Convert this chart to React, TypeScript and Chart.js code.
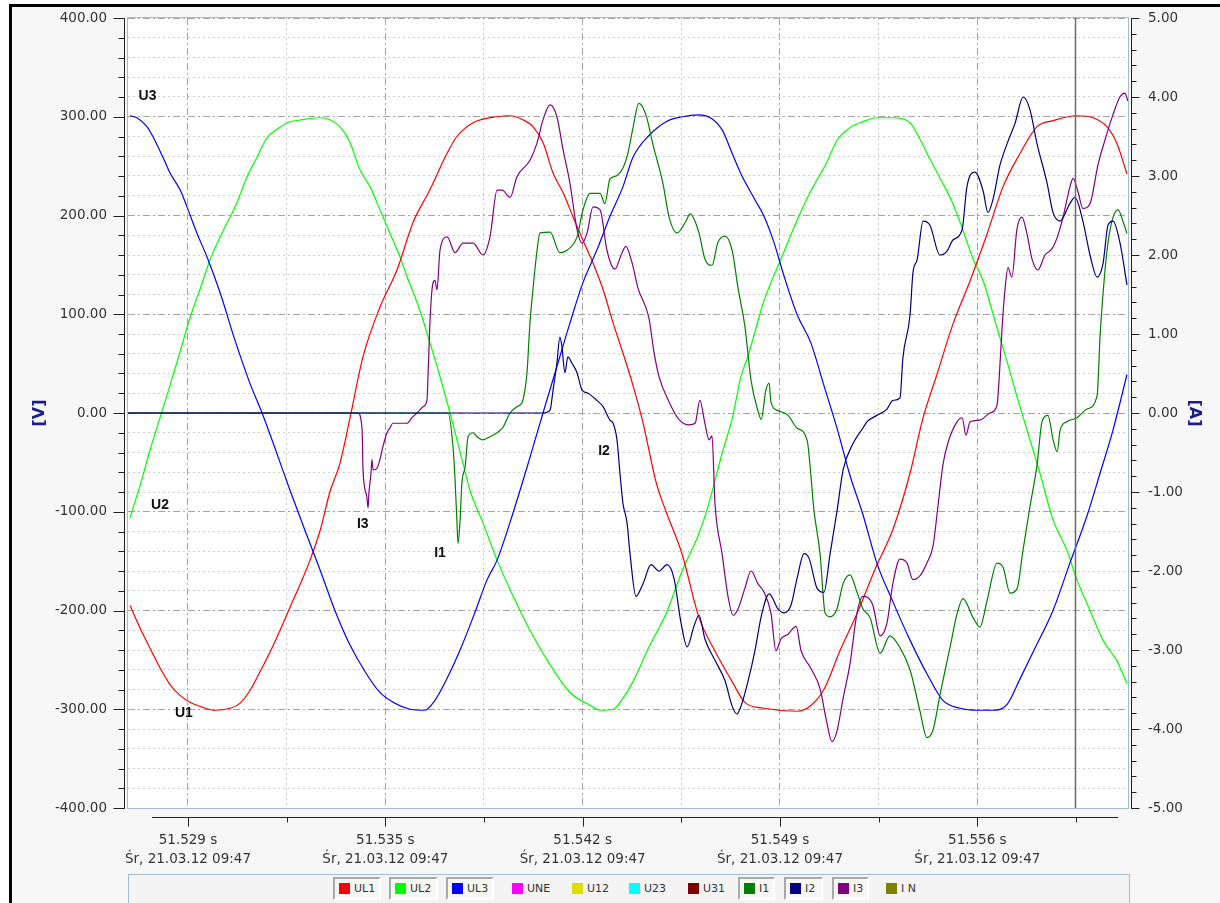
import React, { useEffect, useRef } from "react";
import { Chart, registerables } from "chart.js";

Chart.register(...registerables);

// ---- time axis (ms from left edge of the record window) ----
const X_MAX = 33.784;
const xMajorTicks = [2.027, 8.694, 15.36, 22.027, 28.694];
const xMinorTicks = [5.36, 12.027, 18.694, 25.36, 32.027];
const xTimeLabels = ["51.529 s", "51.535 s", "51.542 s", "51.549 s", "51.556 s"];
const xDateLabels = [
  "Śr, 21.03.12 09:47",
  "Śr, 21.03.12 09:47",
  "Śr, 21.03.12 09:47",
  "Śr, 21.03.12 09:47",
  "Śr, 21.03.12 09:47",
];
const cursorTime = 31.99;

// ---- voltages [ms, V] ----
const ul1: [number, number][] = [
  [0.07, -195], [0.41, -218], [0.74, -238], [1.08, -258], [1.42, -275], [1.76, -286], [2.09, -293],
  [2.43, -297], [2.94, -301], [3.45, -299], [3.78, -294], [4.12, -281], [4.46, -262], [4.8, -242],
  [5.14, -220], [5.47, -197], [5.81, -174], [6.15, -149], [6.49, -119], [6.82, -80], [7.16, -51],
  [7.5, -5], [7.94, 57], [8.51, 107], [9.09, 145], [9.63, 193], [10.2, 226], [10.78, 263],
  [11.11, 280], [11.66, 294], [12.47, 300], [12.91, 301], [13.34, 297], [13.68, 290], [14.02, 274],
  [14.36, 243], [14.7, 223], [15.03, 199], [15.37, 175], [15.71, 152], [16.05, 125], [16.39, 91],
  [16.72, 61], [17.06, 28], [17.4, -10], [17.84, -70], [18.18, -100], [18.72, -143], [19.29, -207],
  [19.83, -241], [20.41, -272], [20.84, -293], [21.49, -299], [22.6, -302], [23.04, -297],
  [23.51, -280], [24.05, -241], [24.63, -203], [25.27, -156], [25.84, -118], [26.42, -61],
  [26.86, -5], [27.33, 39], [27.87, 90], [28.45, 134], [29.02, 181], [29.56, 229], [30.14, 263],
  [30.71, 290], [31.25, 296], [32.06, 301], [32.6, 299], [33.07, 290], [33.41, 273], [33.75, 242],
];

const ul2: [number, number][] = [
  [0.07, -106], [0.41, -73], [0.74, -38], [1.08, -5], [1.42, 28], [1.76, 62], [2.09, 96],
  [2.43, 125], [2.77, 155], [3.11, 178], [3.68, 213], [4.02, 239], [4.36, 259], [4.7, 279],
  [5.03, 287], [5.37, 294], [5.91, 297], [6.49, 299], [6.82, 297], [7.16, 290], [7.5, 274],
  [7.84, 246], [8.18, 229], [8.51, 206], [8.85, 182], [9.19, 158], [9.43, 138], [9.86, 104],
  [10.2, 71], [10.54, 37], [10.88, 0], [11.32, -51], [11.55, -78], [11.99, -111], [12.47, -149],
  [12.91, -179], [13.58, -220], [14.26, -255], [14.93, -283], [15.61, -296], [15.95, -301],
  [16.39, -300], [16.72, -289], [17.06, -272], [17.6, -237], [18.18, -203], [18.72, -160],
  [19.29, -122], [19.63, -91], [20.07, -41], [20.41, -6], [20.71, 37], [20.95, 58], [21.49, 114],
  [22.06, 156], [22.6, 195], [23.07, 225], [23.61, 254], [23.95, 276], [24.39, 289], [24.83, 295],
  [25.3, 299], [25.84, 299], [26.42, 294], [26.76, 277], [26.99, 263], [27.43, 238], [27.87, 212],
  [28.21, 185], [28.55, 156], [28.89, 134], [29.36, 86], [29.7, 52], [30.03, 17], [30.37, -17],
  [30.81, -61], [31.25, -108], [31.72, -139], [32.06, -169], [32.5, -200], [32.94, -230],
  [33.41, -251], [33.75, -274],
];

const ul3: [number, number][] = [
  [0.07, 301], [0.3, 299], [0.64, 290], [0.84, 280], [1.18, 259], [1.42, 243], [1.76, 226],
  [1.99, 209], [2.33, 182], [2.67, 158], [3.11, 122], [3.61, 74], [4.12, 30], [4.53, 0],
  [4.97, -36], [5.47, -78], [5.98, -119], [6.49, -159], [6.99, -200], [7.5, -235], [8.01, -262],
  [8.51, -283], [9.02, -294], [9.53, -300], [10.03, -301], [10.37, -291], [10.71, -273],
  [11.22, -240], [11.72, -202], [12.13, -169], [12.47, -149], [13.01, -101], [13.58, -45],
  [14.02, 0], [14.49, 47], [14.93, 91], [15.37, 132], [15.84, 165], [16.28, 199], [16.72, 229],
  [17.06, 259], [17.6, 281], [18.18, 295], [18.72, 300], [19.29, 302], [19.73, 298], [20.07, 287],
  [20.41, 263], [20.71, 242], [21.18, 216], [21.49, 199], [21.82, 173], [22.16, 139], [22.6, 100],
  [23.07, 71], [23.51, 28], [23.95, -15], [24.39, -63], [24.83, -103], [25.3, -152], [25.84, -191],
  [26.42, -230], [26.99, -264], [27.53, -291], [28.11, -299], [28.68, -301], [29.22, -301],
  [29.7, -295], [30.14, -269], [30.71, -234], [31.25, -200], [31.82, -152], [32.4, -104],
  [32.84, -61], [33.28, -17], [33.75, 39],
];

// ---- currents [ms, A] ----
const i1: [number, number][] = [
  [0, 0], [10.81, 0], [10.98, -0.43], [11.05, -0.85], [11.11, -1.35], [11.15, -1.65], [11.22, -1.35],
  [11.28, -0.89], [11.39, -0.68], [11.49, -0.3], [11.66, -0.25], [11.79, -0.3], [11.99, -0.34],
  [12.23, -0.3], [12.47, -0.25], [12.67, -0.18], [12.91, 0], [13.14, 0.08], [13.31, 0.13],
  [13.41, 0.29], [13.48, 0.51], [13.58, 1.14], [13.68, 1.56], [13.82, 2.06], [13.92, 2.28],
  [14.26, 2.29], [14.59, 2.03], [14.83, 2.06], [15.17, 2.23], [15.37, 2.57], [15.61, 2.78],
  [15.95, 2.78], [16.11, 2.65], [16.28, 2.96], [16.49, 3.0], [16.72, 3.1], [16.89, 3.29],
  [17.06, 3.61], [17.26, 3.92], [17.5, 3.77], [17.74, 3.39], [18.07, 2.91], [18.28, 2.48],
  [18.55, 2.28], [18.85, 2.43], [18.99, 2.52], [19.29, 2.28], [19.49, 1.95], [19.73, 1.87],
  [19.93, 2.16], [20.17, 2.24], [20.41, 2.06], [20.61, 1.58], [20.84, 1.1], [21.05, 0.41],
  [21.28, 0.03], [21.39, -0.08], [21.55, 0.29], [21.66, 0.38], [21.72, 0.14], [21.96, 0.03],
  [22.3, -0.03], [22.6, -0.19], [22.94, -0.34], [23.18, -1.25], [23.38, -1.78], [23.55, -2.53],
  [23.72, -2.58], [23.95, -2.48], [24.16, -2.16], [24.39, -2.05], [24.63, -2.27], [24.83, -2.48],
  [25.07, -2.59], [25.41, -3.04], [25.74, -2.82], [26.08, -2.97], [26.42, -3.25], [26.76, -3.78],
  [26.99, -4.11], [27.2, -4.01], [27.43, -3.57], [27.77, -2.97], [28.01, -2.54], [28.21, -2.35],
  [28.55, -2.59], [28.78, -2.71], [29.02, -2.38], [29.36, -1.9], [29.56, -1.95], [29.8, -2.28],
  [30.03, -2.23], [30.24, -1.73], [30.47, -1.19], [30.71, -0.66], [30.88, -0.11], [31.08, -0.03],
  [31.25, -0.33], [31.39, -0.49], [31.49, -0.22], [31.72, -0.11], [32.06, -0.06], [32.4, 0.05],
  [32.74, 0.22], [32.84, 0.97], [32.94, 1.51], [33.11, 2.16], [33.28, 2.48], [33.45, 2.57],
  [33.61, 2.43], [33.75, 2.27],
];

const i2: [number, number][] = [
  [0, 0], [14.02, 0], [14.26, 0.04], [14.36, 0.29], [14.49, 0.63], [14.59, 0.96], [14.66, 0.84],
  [14.76, 0.51], [14.86, 0.71], [15.0, 0.63], [15.17, 0.51], [15.34, 0.29], [15.54, 0.25],
  [15.84, 0.16], [16.05, 0.08], [16.28, -0.09], [16.39, -0.13], [16.52, -0.34], [16.62, -0.76],
  [16.72, -1.14], [16.86, -1.39], [16.96, -1.78], [17.16, -2.32], [17.4, -2.16], [17.67, -1.92],
  [17.94, -2.0], [18.21, -1.92], [18.45, -2.1], [18.68, -2.65], [18.89, -2.96], [19.12, -2.7],
  [19.29, -2.56], [19.49, -2.86], [19.83, -3.13], [20.17, -3.39], [20.41, -3.71], [20.57, -3.81],
  [20.71, -3.71], [20.95, -3.39], [21.18, -3.01], [21.39, -2.58], [21.66, -2.29], [21.96, -2.48],
  [22.16, -2.53], [22.4, -2.43], [22.6, -2.1], [22.84, -1.78], [23.01, -1.84], [23.28, -2.22],
  [23.51, -2.27], [23.72, -1.78], [23.95, -1.25], [24.16, -0.72], [24.49, -0.39], [24.83, -0.19],
  [24.97, -0.11], [25.3, -0.03], [25.64, 0.05], [25.84, 0.16], [26.08, 0.19], [26.18, 0.7],
  [26.42, 1.24], [26.52, 1.78], [26.66, 1.94], [26.86, 2.43], [27.09, 2.38], [27.43, 2.0],
  [27.67, 2.05], [27.87, 2.19], [28.18, 2.32], [28.34, 2.86], [28.61, 3.05], [28.89, 2.81],
  [29.05, 2.54], [29.22, 2.7], [29.46, 3.14], [29.7, 3.41], [29.97, 3.67], [30.24, 4.0],
  [30.47, 3.84], [30.71, 3.41], [31.05, 2.91], [31.25, 2.54], [31.49, 2.43], [31.82, 2.65],
  [31.99, 2.73], [32.26, 2.43], [32.5, 2.0], [32.74, 1.72], [32.94, 1.89], [33.11, 2.38],
  [33.28, 2.43], [33.51, 2.16], [33.75, 1.62],
];

const i3: [number, number][] = [
  [0, 0], [7.77, 0], [7.91, -0.22], [7.94, -0.72], [8.07, -1.06], [8.11, -1.2], [8.14, -1.01],
  [8.21, -0.76], [8.24, -0.59], [8.28, -0.72], [8.41, -0.7], [8.51, -0.59], [8.61, -0.43],
  [8.75, -0.25], [8.85, -0.19], [8.95, -0.13], [9.43, -0.13], [9.59, -0.06], [9.76, 0], [9.86, 0.04],
  [9.97, 0.08], [10.1, 0.16], [10.14, 0.51], [10.2, 1.14], [10.27, 1.56], [10.37, 1.68], [10.44, 1.56],
  [10.54, 2.06], [10.78, 2.23], [11.05, 2.03], [11.32, 2.15], [11.66, 2.15], [11.99, 2.0],
  [12.23, 2.23], [12.47, 2.82], [12.64, 2.82], [12.91, 2.73], [13.14, 2.99], [13.58, 3.2],
  [13.82, 3.42], [14.02, 3.71], [14.26, 3.9], [14.49, 3.75], [14.7, 3.33], [14.93, 2.91],
  [15.17, 2.32], [15.34, 2.15], [15.51, 2.28], [15.71, 2.61], [15.95, 2.57], [16.18, 2.06],
  [16.45, 1.82], [16.66, 2.0], [16.82, 2.11], [17.03, 1.9], [17.23, 1.58], [17.6, 1.2], [17.77, 0.77],
  [17.94, 0.46], [18.28, 0.14], [18.61, -0.08], [18.95, -0.15], [19.16, -0.13], [19.32, 0.16],
  [19.49, -0.13], [19.63, -0.34], [19.73, -0.29], [19.83, -1.14], [20.07, -1.78], [20.27, -2.32],
  [20.44, -2.56], [20.61, -2.48], [20.84, -2.22], [21.05, -2.0], [21.28, -2.16], [21.49, -2.27],
  [21.72, -2.53], [21.89, -3.01], [22.06, -2.86], [22.3, -2.8], [22.57, -2.7], [22.74, -3.01],
  [23.07, -3.23], [23.38, -3.49], [23.61, -3.92], [23.78, -4.16], [23.95, -4.03], [24.16, -3.61],
  [24.39, -3.18], [24.63, -2.53], [24.83, -2.32], [24.97, -2.33], [25.17, -2.44], [25.41, -2.82],
  [25.64, -2.66], [25.84, -2.16], [26.08, -1.85], [26.32, -1.9], [26.52, -2.11], [26.76, -2.06],
  [26.99, -1.9], [27.2, -1.68], [27.36, -1.19], [27.53, -0.66], [27.7, -0.38], [28.01, -0.11],
  [28.18, -0.06], [28.31, -0.28], [28.45, -0.11], [28.78, -0.09], [29.12, 0], [29.36, 0.1],
  [29.43, 0.43], [29.53, 1.08], [29.63, 1.57], [29.73, 1.84], [29.86, 1.72], [30.03, 2.32],
  [30.2, 2.48], [30.37, 2.27], [30.54, 1.95], [30.74, 1.81], [30.98, 2.0], [31.22, 2.08],
  [31.39, 2.22], [31.59, 2.48], [31.82, 2.86], [31.93, 2.97], [32.09, 2.81], [32.26, 2.59],
  [32.5, 2.65], [32.77, 3.14], [33.01, 3.46], [33.28, 3.78], [33.51, 4.0], [33.68, 4.05],
  [33.78, 3.95],
];

// ---- curve labels [text, ms, V] ----
const curveLabels: [string, number, number][] = [
  ["U3", 0.66, 321],
  ["U2", 1.08, -93],
  ["U1", 1.89, -304],
  ["I3", 7.93, -113],
  ["I1", 10.54, -142],
  ["I2", 16.08, -39],
];

// ---- legend ----
const legendNames = ["UL1", "UL2", "UL3", "UNE", "U12", "U23", "U31", "I1", "I2", "I3", "I N"];
const legendColors = ["#ff0000", "#00ff00", "#0000ff", "#ff00ff", "#dede00", "#00ffff", "#800000", "#008000", "#000080", "#800080", "#808000"];
const legendActive = [true, true, true, false, false, false, false, true, true, true, false];
const legendLeft = [333, 389, 446, 506, 566, 623, 682, 738, 784, 832, 880];
const legendWidth = [48, 49, 48, 48, 48, 48, 48, 37, 39, 37, 40];

const FONT = "'DejaVu Sans', Verdana, sans-serif";

const isMajorX = (v: number) => xMajorTicks.some((m) => Math.abs(m - v) < 1e-6);
const isMajorY = (v: number) => Math.abs(Math.round(v) % 100) === 0 && Math.abs(v - Math.round(v)) < 1e-6;
const isIntA = (v: number) => Math.abs(v - Math.round(v)) < 1e-6;

const decor = {
  id: "decor",
  beforeDraw(chart: any) {
    const { ctx, chartArea: a } = chart;
    ctx.save();
    ctx.fillStyle = "#ffffff";
    ctx.fillRect(a.left, a.top, a.right - a.left, a.bottom - a.top);
    ctx.restore();
  },
  afterDatasetsDraw(chart: any) {
    const { ctx, chartArea: a, scales } = chart;
    const xs = scales.x;
    const ys = scales.y;
    ctx.save();
    // cursor line
    const cx = Math.round(xs.getPixelForValue(cursorTime)) + 0.5;
    ctx.strokeStyle = "#6a6a6a";
    ctx.lineWidth = 1.5;
    ctx.beginPath();
    ctx.moveTo(cx, a.top);
    ctx.lineTo(cx, a.bottom);
    ctx.stroke();
    // curve labels
    ctx.fillStyle = "#111";
    ctx.font = "bold 14px 'Liberation Sans', Arial, sans-serif";
    ctx.textAlign = "center";
    ctx.textBaseline = "middle";
    curveLabels.forEach(([t, x, y]) => {
      ctx.fillText(t, xs.getPixelForValue(x), ys.getPixelForValue(y));
    });
    ctx.restore();
  },
  afterDraw(chart: any) {
    const { ctx, chartArea: a, scales } = chart;
    ctx.save();
    // plot frame
    ctx.strokeStyle = "#a8bccf";
    ctx.lineWidth = 1;
    ctx.strokeRect(a.left - 0.5, a.top - 0.5, a.right - a.left + 1, a.bottom - a.top + 1);

    ctx.strokeStyle = "#222";
    ctx.lineWidth = 1;
    // left axis
    const lx = a.left - 3.5;
    ctx.beginPath();
    ctx.moveTo(lx, a.top);
    ctx.lineTo(lx, a.bottom + 1);
    scales.y.ticks.forEach((t: any) => {
      const py = Math.round(scales.y.getPixelForValue(t.value)) + 0.5;
      const len = isMajorY(t.value) ? 11 : 6;
      ctx.moveTo(lx - len, py);
      ctx.lineTo(lx, py);
    });
    ctx.stroke();
    // right axis
    const rx = a.right + 3.5;
    ctx.beginPath();
    ctx.moveTo(rx, a.top);
    ctx.lineTo(rx, a.bottom + 1);
    scales.y1.ticks.forEach((t: any) => {
      const py = Math.round(scales.y1.getPixelForValue(t.value)) + 0.5;
      const len = isIntA(t.value) ? 8 : 5;
      ctx.moveTo(rx, py);
      ctx.lineTo(rx + len, py);
    });
    ctx.stroke();
    // bottom axis
    const by = a.bottom + 9.5;
    ctx.beginPath();
    ctx.moveTo(a.left + 24, by);
    ctx.lineTo(a.right - 10, by);
    scales.x.ticks.forEach((t: any) => {
      const px = Math.round(scales.x.getPixelForValue(t.value)) + 0.5;
      const len = isMajorX(t.value) ? 9 : 5;
      ctx.moveTo(px, by);
      ctx.lineTo(px, by + len);
    });
    ctx.stroke();
    ctx.restore();
  },
};

const toXY = (arr: [number, number][]) => arr.map(([x, y]) => ({ x, y }));

export default function App() {
  const ref = useRef<HTMLCanvasElement | null>(null);

  useEffect(() => {
    const canvas = ref.current;
    if (!canvas) return;
    const mk = (label: string, data: [number, number][], color: string, axis: string) => ({
      label,
      data: toXY(data),
      borderColor: color,
      backgroundColor: color,
      borderWidth: 1.2,
      pointRadius: 0,
      fill: false,
      yAxisID: axis,
      cubicInterpolationMode: "monotone" as const,
    });
    const majorDash = [7, 3, 2, 3];
    const minorDash = [2, 3];
    const chart = new Chart(canvas, {
      type: "line",
      data: {
        datasets: [
          mk("I2", i2, "#000080", "y1"),
          mk("I1", i1, "#008000", "y1"),
          mk("I3", i3, "#800080", "y1"),
          mk("UL3", ul3, "#0000ff", "y"),
          mk("UL1", ul1, "#ff0000", "y"),
          mk("UL2", ul2, "#00ff00", "y"),
        ],
      },
      options: {
        responsive: false,
        animation: false,
        events: [],
        layout: { padding: { left: 0, right: 0, top: 18, bottom: 0 } },
        plugins: { legend: { display: false }, tooltip: { enabled: false } },
        scales: {
          x: {
            type: "linear",
            min: 0,
            max: X_MAX,
            afterBuildTicks: (s: any) => {
              s.ticks = [...xMajorTicks, ...xMinorTicks].sort((p, q) => p - q).map((v) => ({ value: v }));
            },
            afterFit: (s: any) => {
              s.height = 95;
            },
            grid: {
              drawTicks: false,
              tickLength: 0,
              lineWidth: 1,
              color: (c: any) => (c.tick && isMajorX(c.tick.value) ? "#a4a4a4" : "#cdcdcd"),
            },
            border: {
              display: false,
              dash: (c: any) => (c.tick && isMajorX(c.tick.value) ? majorDash : minorDash),
            },
            ticks: {
              autoSkip: false,
              maxRotation: 0,
              padding: 23,
              color: "#333",
              font: { family: FONT, size: 13.5, lineHeight: 1.42 },
              callback: (v: any) => {
                const k = xMajorTicks.findIndex((m) => Math.abs(m - Number(v)) < 1e-6);
                return k >= 0 ? [xTimeLabels[k], xDateLabels[k]] : "";
              },
            },
          },
          y: {
            position: "left",
            min: -400,
            max: 400,
            afterFit: (s: any) => {
              s.width = 128;
            },
            grid: {
              drawTicks: true,
              tickLength: 21,
              tickColor: "rgba(0,0,0,0)",
              tickWidth: 0,
              lineWidth: 1,
              color: (c: any) => (c.tick && isMajorY(c.tick.value) ? "#a4a4a4" : "#cdcdcd"),
            },
            border: {
              display: false,
              dash: (c: any) => (c.tick && isMajorY(c.tick.value) ? majorDash : minorDash),
            },
            ticks: {
              stepSize: 20,
              autoSkip: false,
              padding: 0,
              color: "#333",
              font: { family: FONT, size: 13.5 },
              callback: (v: any) => (isMajorY(Number(v)) ? Number(v).toFixed(2) : ""),
            },
            title: {
              display: true,
              text: "[V]",
              color: "#1c1c8a",
              font: { family: FONT, size: 16, weight: "bold" },
              padding: { top: 30, bottom: 0 },
            },
          },
          y1: {
            position: "right",
            min: -5,
            max: 5,
            afterFit: (s: any) => {
              s.width = 92;
            },
            grid: {
              drawOnChartArea: false,
              drawTicks: true,
              tickLength: 20,
              tickColor: "rgba(0,0,0,0)",
              tickWidth: 0,
            },
            border: { display: false },
            ticks: {
              stepSize: 0.2,
              autoSkip: false,
              padding: 0,
              color: "#333",
              font: { family: FONT, size: 13.5 },
              callback: (v: any) => (isIntA(Number(v)) ? Number(v).toFixed(2) : ""),
            },
            title: {
              display: true,
              text: "[A]",
              color: "#1c1c8a",
              font: { family: FONT, size: 16, weight: "bold" },
              padding: { top: 16, bottom: 0 },
            },
          },
        },
      } as any,
      plugins: [decor],
    });
    return () => chart.destroy();
  }, []);

  return (
    <div style={{ position: "absolute", left: 0, top: 0, width: 1220, height: 903, background: "#ffffff", overflow: "hidden" }}>
      <div
        style={{
          position: "absolute",
          left: 9,
          top: 4,
          width: 1211,
          height: 899,
          boxSizing: "border-box",
          borderLeft: "3px solid #000",
          borderTop: "3px solid #000",
          background: "#f7f7f7",
        }}
      />
      <canvas ref={ref} width={1220} height={903} style={{ position: "absolute", left: 0, top: 0, display: "block" }} />
      <div
        style={{
          position: "absolute",
          left: 128,
          top: 874,
          width: 1002,
          height: 29,
          boxSizing: "border-box",
          border: "1px solid #a8bccf",
          borderBottom: "none",
          background: "#f4f4f4",
          fontFamily: FONT,
          fontSize: 11,
          color: "#333",
        }}
      >
        {legendNames.map((name, i) => (
          <div
            key={name}
            style={{
              position: "absolute",
              left: legendLeft[i] - 129,
              top: 2,
              width: legendWidth[i],
              height: 23,
              boxSizing: "border-box",
              border: legendActive[i] ? "2px solid" : "2px solid transparent",
              borderColor: legendActive[i] ? "#a9a9a9 #ffffff #ffffff #a9a9a9" : "transparent",
              background: legendActive[i] ? "#f8f8f2" : "transparent",
              display: "flex",
              alignItems: "center",
              paddingLeft: 4,
              whiteSpace: "nowrap",
            }}
          >
            <span style={{ display: "inline-block", width: 11, height: 11, background: legendColors[i], marginRight: 4 }} />
            <span>{name}</span>
          </div>
        ))}
      </div>
    </div>
  );
}
